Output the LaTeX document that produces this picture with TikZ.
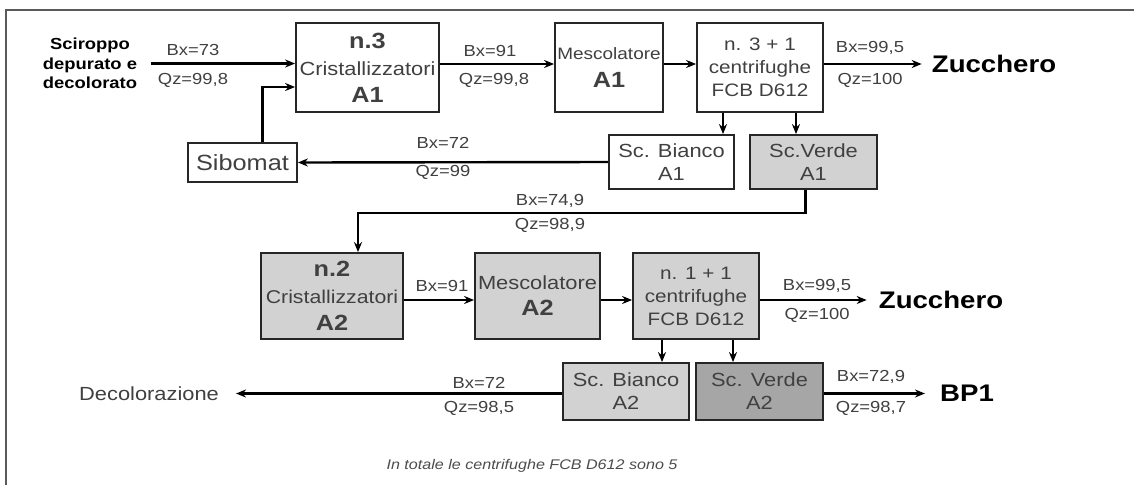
\documentclass[tikz,border=0pt]{standalone}
\usepackage{fontspec}
\setmainfont{Liberation Sans}[FakeStretch=1.15]
\usetikzlibrary{arrows.meta}

\definecolor{framegray}{HTML}{5A5A5A}
\definecolor{grigiochiaro}{HTML}{D2D2D2}
\definecolor{grigioscuro}{HTML}{A6A6A6}

\newcommand\sigla[1]{{\bfseries\fontsize{22}{22}\selectfont #1}}

\begin{document}
\begin{tikzpicture}[x=1pt,y=-1pt,>={Stealth[length=10pt,width=8pt]},
    unit/.style={draw=black!85, line width=1.8pt, align=center, inner sep=0pt, text=black!75},
    flow/.style={->, line width=2.4pt},
    val/.style={inner sep=0pt, text=black!75, font=\fontsize{16}{18}\selectfont},
    product/.style={inner sep=0pt, font=\bfseries\fontsize{24}{28}\selectfont}]
  \useasboundingbox (0,0) rectangle (1134,485);
  \draw[line width=2.5pt, framegray] (6,485) -- (6,10) -- (1134,10);

  % linea A1
  \node[inner sep=0pt, align=center, font=\bfseries\fontsize{16}{19.5}\selectfont] (sirup) at (90,63.5) {Sciroppo\\depurato e\\decolorato};
  \node[unit, minimum width=143pt, minimum height=89pt, font=\fontsize{19}{27}\selectfont] (crA1) at (367.5,67.5) {\sigla{n.3}\\Cristallizzatori\\\sigla{A1}};
  \node[unit, minimum width=108pt, minimum height=89pt, font=\fontsize{16.5}{28}\selectfont] (mescA1) at (609,67.5) {Mescolatore\\\sigla{A1}};
  \node[unit, minimum width=126pt, minimum height=89pt, font=\fontsize{18}{23}\selectfont] (centA1) at (760,67.5) {n. 3 + 1\\centrifughe\\FCB D612};
  \node[product] (zuccA1) at (994,64) {Zucchero};
  \node[unit, minimum width=109pt, minimum height=39pt, font=\fontsize{22}{24}\selectfont] (sibomat) at (242.5,162.5) {Sibomat};
  \node[unit, minimum width=125pt, minimum height=54pt, font=\fontsize{19}{23}\selectfont] (bianA1) at (671.5,162) {Sc. Bianco\\A1};
  \node[unit, fill=grigiochiaro, minimum width=127pt, minimum height=54pt, font=\fontsize{19}{23}\selectfont] (verdeA1) at (813.5,162) {Sc.Verde\\A1};

  \node[val] (bx1) at (193,50) {Bx=73};
  \node[val] (qz1) at (193,80) {Qz=99,8};
  \node[val] (bx2) at (490,51) {Bx=91};
  \node[val] (qz2) at (494,80) {Qz=99,8};
  \node[val] (bx3) at (870,48) {Bx=99,5};
  \node[val] (qz3) at (870,80) {Qz=100};
  \node[val] (bx4) at (443,143) {Bx=72};
  \node[val] (qz4) at (443,172) {Qz=99};
  \node[val] (bx5) at (550,201) {Bx=74,9};
  \node[val] (qz5) at (550,225) {Qz=98,9};

  \draw[flow] ([xshift=14pt]sirup.east) -- ([yshift=4pt]crA1.west);
  \draw[flow] ([yshift=3.5pt]crA1.east) -- ([yshift=3.5pt]mescA1.west);
  \draw[flow] ([yshift=3.5pt]mescA1.east) -- ([yshift=3.5pt]centA1.west);
  \draw[flow] ([yshift=3.5pt]centA1.east) -- ([xshift=-10pt]zuccA1.west);
  \draw[flow] ([xshift=-37pt]centA1.south) -- ([xshift=-37pt]centA1.south |- bianA1.north);
  \draw[flow] ([xshift=36pt]centA1.south) -- ([xshift=36pt]centA1.south |- verdeA1.north);
  \draw[flow] (bianA1.west) -- (sibomat.east);
  \draw[flow] ([xshift=20pt]sibomat.north) |- ([yshift=-19.5pt]crA1.west);

  % linea A2
  \node[unit, fill=grigiochiaro, minimum width=142pt, minimum height=86pt, font=\fontsize{18.5}{27}\selectfont] (crA2) at (332,296) {\sigla{n.2}\\Cristallizzatori\\\sigla{A2}};
  \node[unit, fill=grigiochiaro, minimum width=125pt, minimum height=86pt, font=\fontsize{19}{26}\selectfont] (mescA2) at (537.5,296) {Mescolatore\\\sigla{A2}};
  \node[unit, fill=grigiochiaro, minimum width=126pt, minimum height=86pt, font=\fontsize{18}{23}\selectfont] (centA2) at (696,296) {n. 1 + 1\\centrifughe\\FCB D612};
  \node[product] (zuccA2) at (941,300) {Zucchero};
  \node[unit, fill=grigiochiaro, minimum width=126pt, minimum height=57pt, font=\fontsize{19}{23}\selectfont] (bianA2) at (626,391.5) {Sc. Bianco\\A2};
  \node[unit, fill=grigioscuro, minimum width=127pt, minimum height=57pt, font=\fontsize{19}{23}\selectfont] (verdeA2) at (759.5,391.5) {Sc. Verde\\A2};
  \node[inner sep=0pt, text=black!75, font=\fontsize{19}{23}\selectfont] (decol) at (149,393.5) {Decolorazione};
  \node[product] (bp1) at (967,393.5) {BP1};

  \coordinate (fbL) at (358,213);
  \draw[flow] ([xshift=-8pt]verdeA1.south) |- (fbL) -- ([xshift=26pt]crA2.north);
  \draw[flow] ([yshift=-4pt]crA2.east) -- ([yshift=-4pt]mescA2.west);
  \draw[flow] ([yshift=-4pt]mescA2.east) -- ([yshift=-4pt]centA2.west);
  \draw[flow] ([yshift=-4pt]centA2.east) -- ([xshift=-12pt]zuccA2.west);
  \draw[flow] ([xshift=-34pt]centA2.south) -- ([xshift=-34pt]centA2.south |- bianA2.north);
  \draw[flow] ([xshift=37pt]centA2.south) -- ([xshift=37pt]centA2.south |- verdeA2.north);
  \draw[flow] ([yshift=-2pt]bianA2.west) -- ([xshift=17pt]decol.east);
  \draw[flow] ([yshift=-2pt]verdeA2.east) -- ([xshift=-15pt]bp1.west);

  \node[val] (bx6) at (442,286) {Bx=91};
  \node[val] (bx7) at (817,286) {Bx=99,5};
  \node[val] (qz7) at (817,315) {Qz=100};
  \node[val] (bx8) at (479,383) {Bx=72};
  \node[val] (qz8) at (479,408) {Qz=98,5};
  \node[val] (bx9) at (871,377) {Bx=72,9};
  \node[val] (qz9) at (871,408) {Qz=98,7};

  \node[inner sep=0pt, text=black!70, font=\itshape\fontsize{14}{16}\selectfont] (nota) at (532,466) {In totale le centrifughe FCB D612 sono 5};
\end{tikzpicture}
\end{document}
